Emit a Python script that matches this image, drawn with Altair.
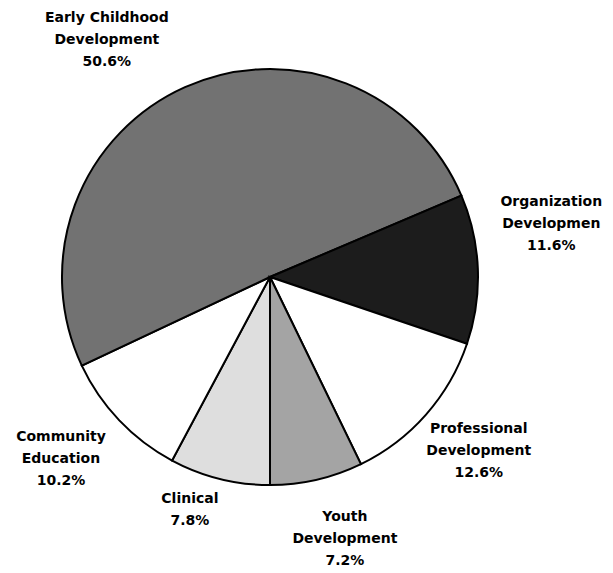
import math
import altair as alt
import pandas as pd

# Data (clockwise from the bottom of the pie)
categories = ["Clinical", "Community Education", "Early Childhood Development",
              "Organization Development", "Professional Development", "Youth Development"]
label_lines = [["Clinical"], ["Community", "Education"], ["Early Childhood", "Development"],
               ["Organization", "Developmen"], ["Professional", "Development"], ["Youth", "Development"]]
shares = [7.8, 10.2, 50.6, 11.6, 12.6, 7.2]
fills = ["#dedede", "#ffffff", "#727272", "#1c1c1c", "#ffffff", "#a4a4a4"]

# label layout: angle shift (deg) from slice middle and distance of first line from centre (px)
label_shift = [5.8, 6.2, -8.1, -12.7, -5.4, -4.4]
label_radius = [236, 263, 306, 291, 258, 251]

total = sum(shares)
rows = []
cum = 0.0
for i, (c, v) in enumerate(zip(categories, shares)):
    mid = math.pi + (cum + v / 2) / total * 2 * math.pi + math.radians(label_shift[i])
    cum += v
    rows.append({
        "order": i,
        "category": c,
        "share": v,
        "label": label_lines[i] + [f"{v:.1f}%"],
        "label_angle": mid,
        "label_r": label_radius[i],
    })
df = pd.DataFrame(rows)

base = alt.Chart(df)

pie = base.mark_arc(outerRadius=208, stroke="black", strokeWidth=2).encode(
    theta=alt.Theta("share:Q", stack=True,
                    scale=alt.Scale(range=[math.pi, 3 * math.pi])),
    order=alt.Order("order:Q"),
    color=alt.Color("category:N", scale=alt.Scale(domain=categories, range=fills),
                    legend=None),
)

labels = base.mark_text(font="DejaVu Sans", fontWeight="bold", fontSize=14,
                        lineHeight=22, align="center", baseline="middle",
                        color="black").encode(
    theta=alt.Theta("label_angle:Q", scale=None),
    radius=alt.Radius("label_r:Q", scale=None),
    text=alt.Text("label"),
)

chart = alt.layer(pie, labels).properties(
    width=524, height=538,
    autosize=alt.AutoSizeParams(type="none"),
    padding={"left": 0, "top": 0, "right": 73, "bottom": 25},
).configure_view(stroke=None)

chart.save("out.html", embed_options={"renderer": "svg", "actions": False})
